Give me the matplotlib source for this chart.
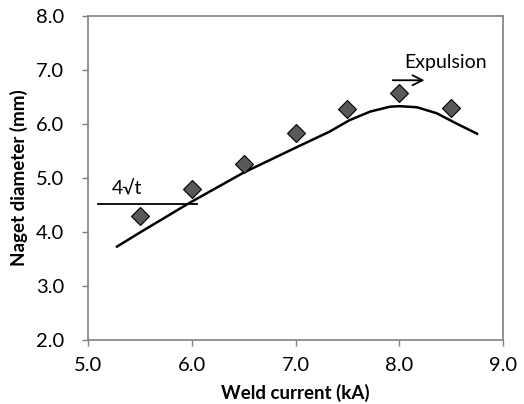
import numpy as np
import matplotlib.pyplot as plt

plt.rcParams['font.family'] = ['Lato', 'DejaVu Sans']

# Medidas (diamantes)
corriente = [5.5, 6.0, 6.5, 7.0, 7.5, 8.0, 8.5]
diametro = [4.3, 4.8, 5.25, 5.83, 6.28, 6.58, 6.3]

# Curva
curva_x = [5.28, 5.5, 5.97, 6.5, 7.0, 7.33, 7.52, 7.72, 7.91, 8.0, 8.17, 8.36, 8.55, 8.75]
curva_y = [3.73, 3.99, 4.53, 5.1, 5.56, 5.86, 6.07, 6.23, 6.32, 6.33, 6.31, 6.2, 6.01, 5.82]

# Limite 4*sqrt(t)
limite_x = [5.1, 6.05]
limite_y = [4.52, 4.52]

fig = plt.figure(figsize=(5.24, 4.04), dpi=100)
ax = fig.add_axes([88/524, 1 - 340/404, 415/524, 324/404])

ax.plot(curva_x, curva_y, color='black', lw=1.8, solid_joinstyle='round')
ax.plot(limite_x, limite_y, color='black', lw=1.3)
ax.plot(corriente, diametro, ls='none', marker='D', ms=9.5,
        mfc='#595959', mec='black', mew=0.8)

ax.text(5.23, 4.8, '4√t', fontsize=14, va='center', ha='left')
ax.annotate('', xy=(8.27, 6.81), xytext=(7.91, 6.81),
            arrowprops=dict(arrowstyle='->', color='black', lw=1.3,
                            mutation_scale=18))
ax.text(8.05, 7.13, 'Expulsion', fontsize=14, va='center', ha='left')

ax.set_xlim(5.0, 9.0)
ax.set_ylim(2.0, 8.0)
ax.set_xticks(np.arange(5.0, 9.01, 1.0))
ax.set_yticks(np.arange(2.0, 8.01, 1.0))
ax.set_xticklabels([f'{v:.1f}' for v in ax.get_xticks()])
ax.set_yticklabels([f'{v:.1f}' for v in ax.get_yticks()])
ax.tick_params(direction='out', length=4.5, width=1, color='#808080',
               labelsize=14.5)
ax.tick_params(axis='y', pad=12.5)
ax.tick_params(axis='x', pad=8)
for s in ax.spines.values():
    s.set_color('#808080')
    s.set_linewidth(1.2)

ax.set_xlabel('Weld current (kA)', fontsize=13.5, fontweight='bold', labelpad=7)
ax.set_ylabel('Naget diameter (mm)', fontsize=13.5, fontweight='bold', labelpad=6)

fig.savefig('out.png', dpi=100)
